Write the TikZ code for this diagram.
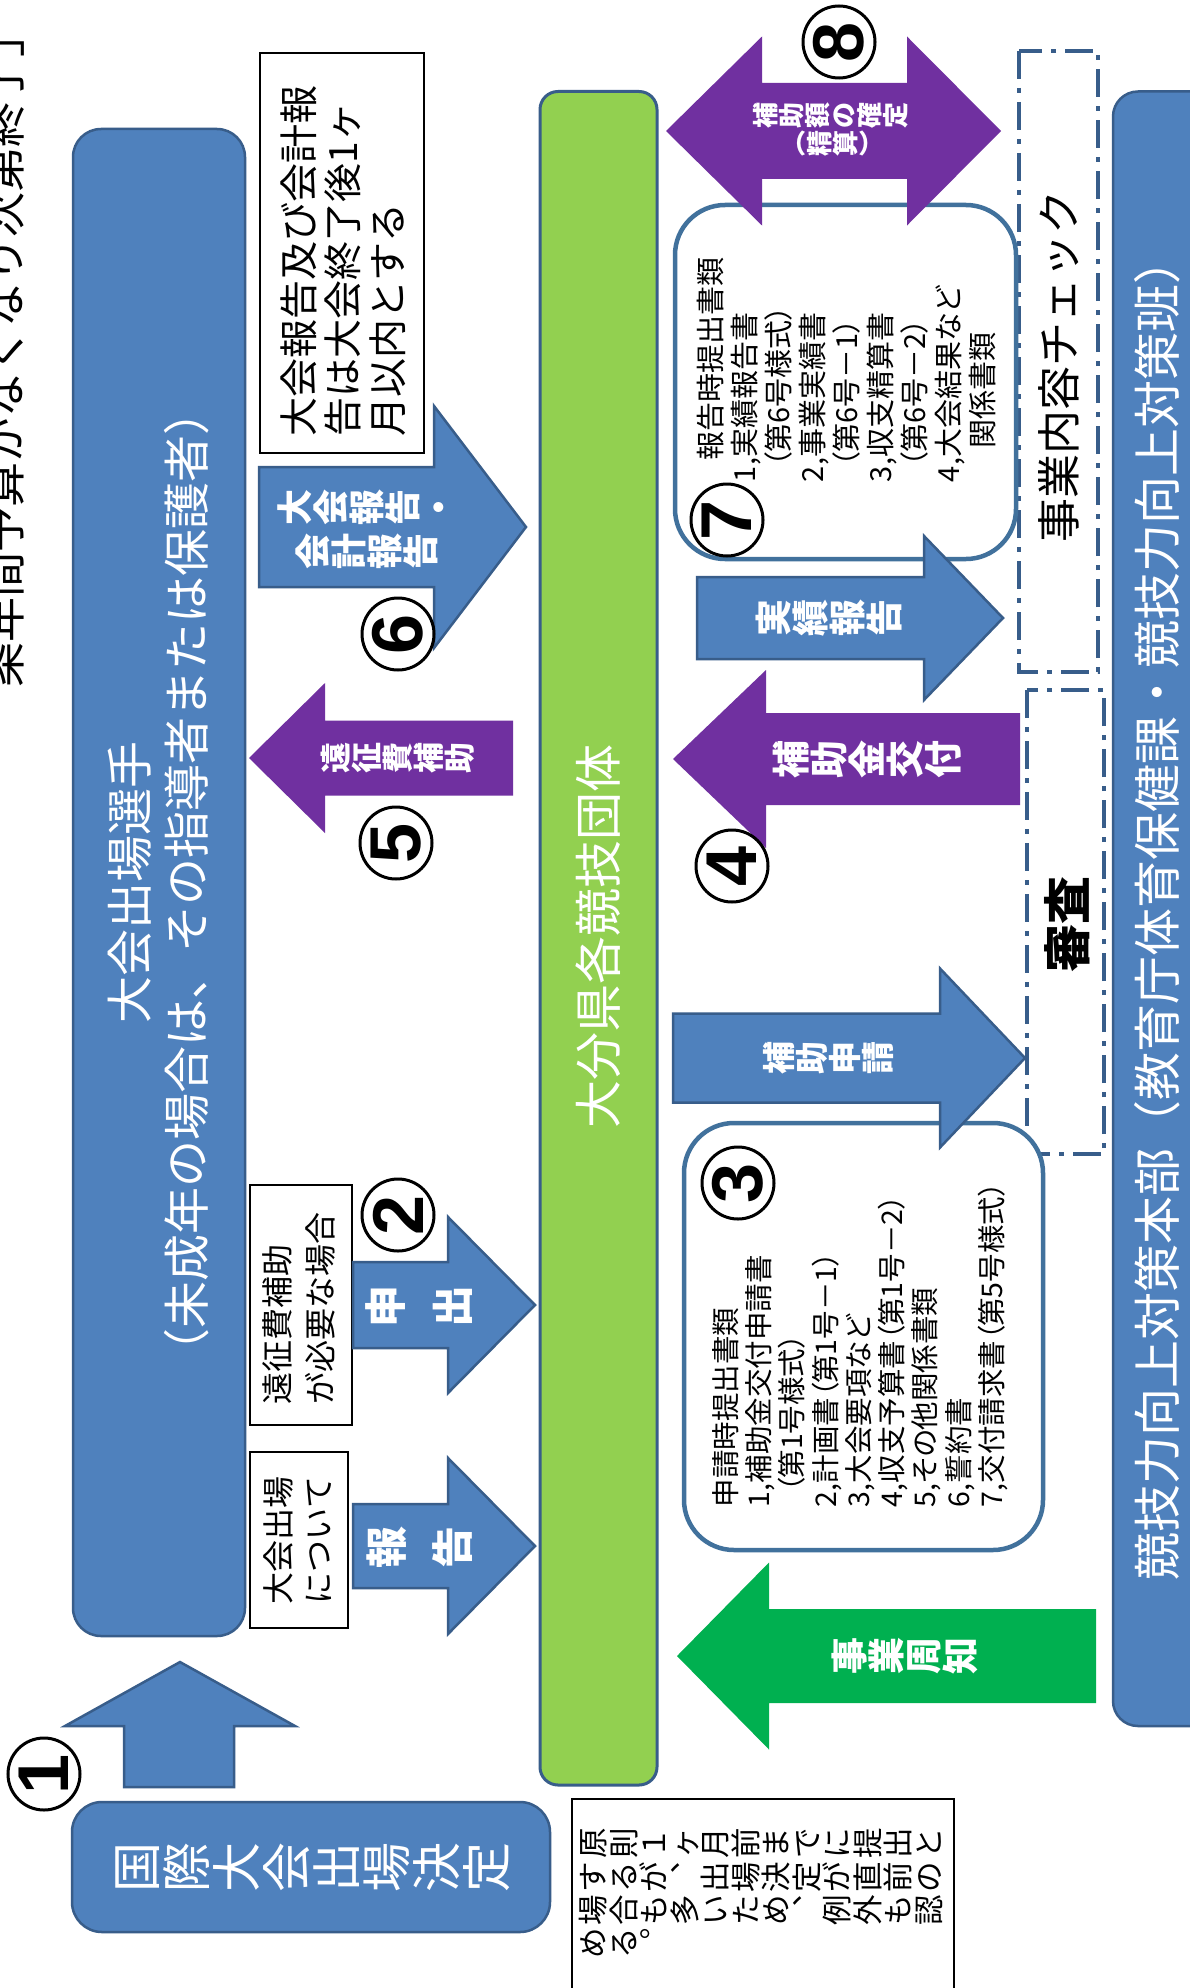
\documentclass[tikz,border=0pt]{standalone}
\usepackage{fontspec}
\usepackage{graphicx}
\newfontfamily\jp{Noto Sans CJK JP}
\newfontfamily\jpp[RawFeature=+palt]{Noto Sans CJK JP}
\newfontfamily\lsans{Liberation Sans}
\definecolor{bfill}{HTML}{4F81BD}
\definecolor{bline}{HTML}{385D8A}
\definecolor{gbar}{HTML}{92D050}
\definecolor{purp}{HTML}{7030A0}
\definecolor{garr}{HTML}{00B050}
\definecolor{boxline}{HTML}{41719C}
\makeatletter
\newcommand\rg[1]{\rotatebox[origin=c]{90}{\raisebox{0pt}[0.88em][0.12em]{\makebox[1em]{#1}}}}
\newcommand\tate[1]{\@tfor\tate@c:=#1\do{\rg{\tate@c}}}
\makeatother
\begin{document}
\begin{tikzpicture}[x=1pt,y=-1pt,
 fs/.style 2 args={font=\jp\fontsize{#1}{#2}\selectfont},
 fsb/.style 2 args={font=\jp\bfseries\fontsize{#1}{#2}\selectfont},
 fsp/.style 2 args={font=\jpp\fontsize{#1}{#2}\selectfont},
 txt/.style={inner sep=0pt, outer sep=0pt},
 blk/.style={fill=bfill, draw=bline, line width=2.5pt},
 note/.style={fill=white, draw=black, line width=1.8pt},
 num/.style={circle, draw=black, line width=3pt, fill=white, minimum size=72pt, inner sep=0pt, font=\lsans\bfseries\fontsize{72}{72}\selectfont, rotate=90},
 dbox/.style={draw=bline, line width=4.5pt, dash pattern=on 28pt off 9pt on 5pt off 9pt},
 rbox/.style={fill=white, draw=boxline, line width=4.5pt, rounded corners=50pt}
]
\useasboundingbox (0,0) rectangle (1190,1988);
\clip (0,0) rectangle (1190,1988);
\fill[white] (0,0) rectangle (1190,1988);

% top-left clipped remark
\node[fs={45}{45}, txt, rotate=90] (remark) at (3,350) {条年間予算がなくなり次第終了」};

% players
\draw[blk, rounded corners=28pt] (73,129) rectangle (245,1636);
\node[fs={47}{57}, txt, text=white, rotate=90, align=center] (players) at (158.5,882) {大会出場選手\\（未成年の場合は、その指導者または保護者）};

% green bar
\draw[fill=gbar, draw=bline, line width=3pt, rounded corners=18pt] (540,91.5) rectangle (657,1785);
\node[fs={48}{48}, txt, text=white, rotate=90] (pref) at (598,936) {大分県各競技団体};

% HQ
\draw[blk, rounded corners=25pt] (1113,91.5) rectangle (1240,1726);
\node[fs={48}{48}, txt, text=white, rotate=90] (hq) at (1157,908) {競技力向上対策本部（教育庁体育保健課・競技力向上対策班）};

% international decision
\draw[blk, rounded corners=30pt] (72,1802) rectangle (550,1932);
\node[fs={50}{50}, txt, text=white] (kokusai) at (311,1867) {\tate{国際大会出場決定}};

% note boxes
\draw[note] (260,53) rectangle (424,453);
\node[fs={39}{44.5}, txt, rotate=90, anchor=west, align=left] (note6) at (343,436) {大会報告及び会計報\\告は大会終了後1ヶ\\月以内とする};
\draw[note] (250,1185) rectangle (352,1425);
\node[fs={32}{43}, txt, rotate=90, anchor=west, align=left] (note2) at (299,1404) {遠征費補助\\が必要な場合};
\draw[note] (250,1452) rectangle (348,1628);
\node[fs={32}{40}, txt, rotate=90, anchor=west, align=left] (note1) at (298,1604) {大会出場\\について};

% bottom note
\draw[note] (572,1799) rectangle (954,2010);
\node[fs={30.5}{30.5}, txt, anchor=west] (bn1) at (578,1843) {\tate{原則１ヶ月前までに提出と}};
\node[fs={30.5}{30.5}, txt, anchor=west] (bn2) at (578,1877) {\tate{するが︑出場決定が直前の}};
\node[fs={30.5}{30.5}, txt, anchor=west] (bn3) at (578,1910) {\tate{場合も多いため︑例外も認}};
\node[fs={30.5}{30.5}, txt, anchor=west] (bn4) at (578,1943) {\tate{める︒}};

% dashed boxes
\draw[dbox] (1019,51) rectangle (1098,672);
\node[fs={44}{44}, txt, rotate=90] (check) at (1059,366) {事業内容チェック};
\draw[dbox] (1027,690) rectangle (1104,1154);
\node[fsb={48}{48}, txt, rotate=90] (sinsa) at (1067,924) {審査};

% report documents box (7)
\draw[rbox] (675,205) rectangle (1016,559);
\node[fsp={29}{34}, txt, rotate=90, anchor=west, align=left] (repdocs) at (846,482)
 {\hspace*{0.75em}報告時提出書類\\1,実績報告書\\\hspace*{0.5em}（第6号様式）\\2,事業実績書\\\hspace*{0.5em}（第6号－1）\\3,収支精算書\\\hspace*{0.5em}（第6号－2）\\4,大会結果など\\\hspace*{1.15em}関係書類};

% application documents box (3)
\draw[rbox] (684,1123) rectangle (1043,1550);
\node[fsp={28.5}{33.3}, txt, rotate=90, anchor=west, align=left] (appdocs) at (860,1507)
 {申請時提出書類\\1,補助金交付申請書\\\hspace*{0.5em}（第1号様式）\\2,計画書（第1号－1）\\3,大会要項など\\4,収支予算書（第1号－2）\\5,その他関係書類\\6,誓約書\\7,交付請求書（第5号様式）};

% block arrows
\draw[blk] (259,467)--(434,467)--(434,406)--(526,527)--(434,648)--(434,587)--(259,587)--cycle;
\draw[blk] (353,1262)--(448,1262)--(448,1217)--(535,1305)--(448,1393)--(448,1348)--(353,1348)--cycle;
\draw[blk] (353,1504)--(448,1504)--(448,1458)--(535,1546)--(448,1634)--(448,1588)--(353,1588)--cycle;
\draw[blk] (673,1013.5)--(940,1013.5)--(940,968.5)--(1025,1058)--(940,1147.5)--(940,1102.5)--(673,1102.5)--cycle;
\draw[blk] (697,577)--(924,577)--(924,536)--(1003,618)--(924,700)--(924,659)--(697,659)--cycle;
\draw[blk] (180,1662)--(295,1726)--(234,1726)--(234,1787)--(124,1787)--(124,1726)--(65,1726)--cycle;
\fill[purp] (249,758)--(325,683)--(325,720.5)--(513,720.5)--(513,795.5)--(325,795.5)--(325,833)--cycle;
\fill[purp] (673,759)--(766,670)--(766,713)--(1020,713)--(1020,805)--(766,805)--(766,848)--cycle;
\fill[garr] (677,1656)--(769,1562.5)--(769,1609)--(1096,1609)--(1096,1703)--(769,1703)--(769,1749.5)--cycle;
\fill[purp] (666,131)--(762,36.5)--(762,83)--(907,83)--(907,36.5)--(1001,131)--(907,225.5)--(907,179)--(762,179)--(762,225.5)--cycle;

% arrow labels
\node[fsb={36}{36}, txt, text=white] (lab6a) at (367,507) {\tate{大会報告・}};
\node[fsb={36}{36}, txt, text=white] (lab6b) at (367,551) {\tate{会計報告}};
\node[fsb={31}{31}, txt, text=white] (lab5) at (398,758) {\tate{遠征費補助}};
\node[fsb={38}{38}, txt, text=white] (lab4) at (867,759) {\tate{補助金交付}};
\node[fsb={33}{33}, txt, text=white] (lab3) at (828,1058) {\tate{補助申請}};
\node[fsb={37}{37}, txt, text=white] (lab7) at (829,618) {\tate{実績報告}};
\node[fsb={37}{37}, txt, text=white] (labj) at (905,1656) {\tate{事業周知}};
\node[fsb={26}{26}, txt, text=white] (lab8a) at (831,116) {\tate{補助額の確定}};
\node[fsb={26}{26}, txt, text=white] (lab8b) at (833,144) {\tate{︵精算︶}};
\node[fsb={42}{42}, txt, text=white] (lab2a) at (386,1306) {\tate{申}};
\node[fsb={42}{42}, txt, text=white] (lab2b) at (453,1306) {\tate{出}};
\node[fsb={42}{42}, txt, text=white] (lab1a) at (387,1547) {\tate{報}};
\node[fsb={42}{42}, txt, text=white] (lab1b) at (453,1547) {\tate{告}};

% step numbers
\node[num] (c1) at (44,1774) {1};
\node[num] (c2) at (398,1215) {2};
\node[num] (c3) at (738,1183) {3};
\node[num] (c4) at (732,866) {4};
\node[num] (c5) at (396,843) {5};
\node[num] (c6) at (398,634) {6};
\node[num] (c7) at (727,520) {7};
\node[num] (c8) at (839,42) {8};
\end{tikzpicture}
\end{document}
